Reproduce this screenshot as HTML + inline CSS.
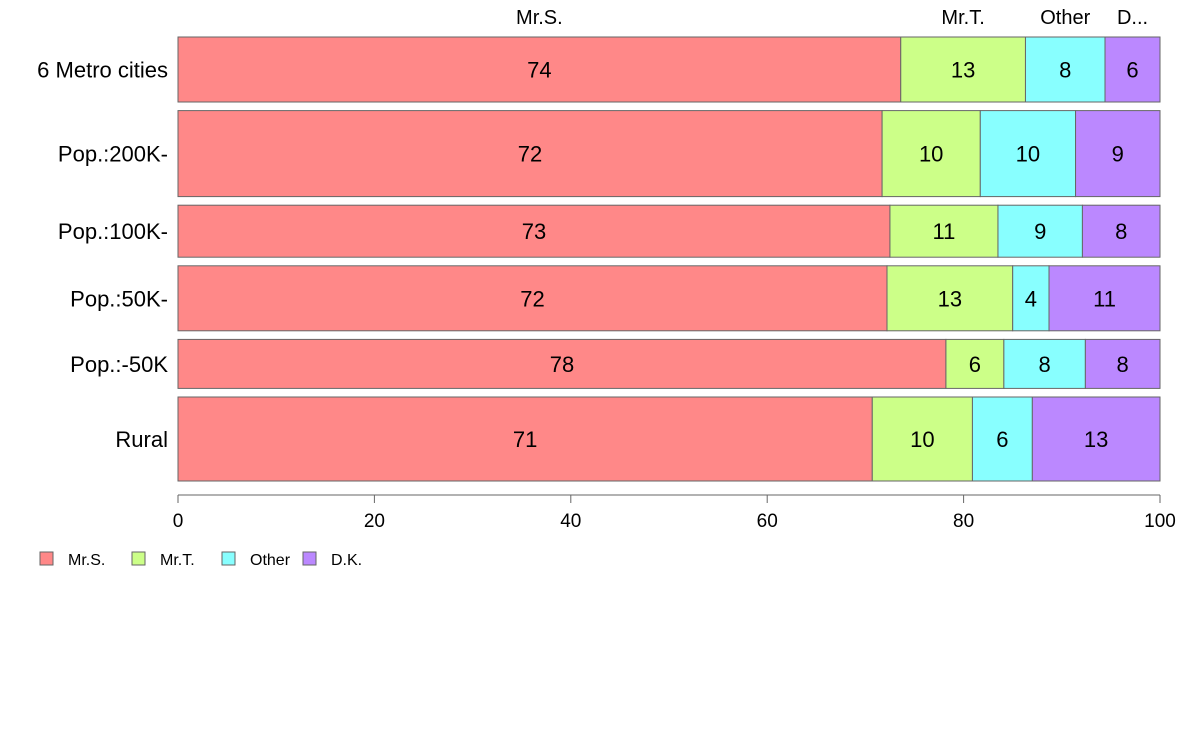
<!DOCTYPE html>
<html><head><meta charset="utf-8"><style>
body{margin:0;background:#fff;}
svg{display:block;font-family:"Liberation Sans",Arial,sans-serif;}
</style></head><body>
<svg id="chart" width="1188" height="736"></svg>
<script>
const categories = ["6 Metro cities","Pop.:200K-","Pop.:100K-","Pop.:50K-","Pop.:-50K","Rural"];
const weights = [65,86,52,65,49,84];
const seriesNames = ["Mr.S.","Mr.T.","Other","D.K."];
const topLabels = ["Mr.S.","Mr.T.","Other","D..."];
const sMrS = [73.6,71.7,72.5,72.2,78.2,70.7];
const sMrT = [12.7,10.0,11.0,12.8,5.9,10.2];
const sOther = [8.1,9.7,8.6,3.7,8.3,6.1];
const sDK = [5.6,8.6,7.9,11.3,7.6,13.0];
const ticks = [0,20,40,60,80,100];
const colors = ["#FF8888","#CCFF88","#88FFFF","#BB88FF"];
const series = [sMrS,sMrT,sOther,sDK];
const NS="http://www.w3.org/2000/svg";
const svg=document.getElementById('chart');
const x0=178,x1=1160,yTop=37,yBot=481,gap=8.6;
const xs=v=>x0+(x1-x0)*v/100;
function el(t,a,txt){const e=document.createElementNS(NS,t);for(const k in a)e.setAttribute(k,a[k]);if(txt!==undefined)e.textContent=txt;svg.appendChild(e);return e;}
const wsum=weights.reduce((a,b)=>a+b,0);
const scaleH=(yBot-yTop-gap*(categories.length-1))/wsum;
let y=yTop;
categories.forEach((c,i)=>{
  const h=weights[i]*scaleH;
  const tot=series.reduce((a,s)=>a+s[i],0);
  let cum=0;
  series.forEach((s,j)=>{
    const v=s[i]/tot*100;
    const r=el('rect',{x:xs(cum),y:y,width:xs(cum+v)-xs(cum),height:h,fill:colors[j],stroke:'#666','stroke-width':1});
    
    
    const t=el('text',{x:(xs(cum)+xs(cum+v))/2,y:y+h/2+8,'text-anchor':'middle','font-size':22,fill:'#000'},Math.round(s[i]));
    
    
    if(i===0){
      const tl=el('text',{x:(xs(cum)+xs(cum+v))/2,y:24,'text-anchor':'middle','font-size':20},topLabels[j]);
      
      
    }
    cum+=v;
  });
  const cl=el('text',{x:168,y:y+h/2+8,'text-anchor':'end','font-size':22},c);
  
  
  y+=h+gap;
});
const ax=el('line',{x1:x0,x2:x1,y1:495,y2:495,stroke:'#666'});


ticks.forEach(t=>{
  const tk=el('line',{x1:xs(t),x2:xs(t),y1:495,y2:503,stroke:'#666'});
  
  
  const tl=el('text',{x:xs(t),y:527,'text-anchor':'middle','font-size':19},t);
  
  
});
const lx=[40,132,222,303];
seriesNames.forEach((n,j)=>{
  const r=el('rect',{x:lx[j],y:552,width:13,height:13,fill:colors[j],stroke:'#666'});
  
  
  const t=el('text',{x:lx[j]+28,y:565,'font-size':16},n);
  
  
});
</script>
</body></html>
